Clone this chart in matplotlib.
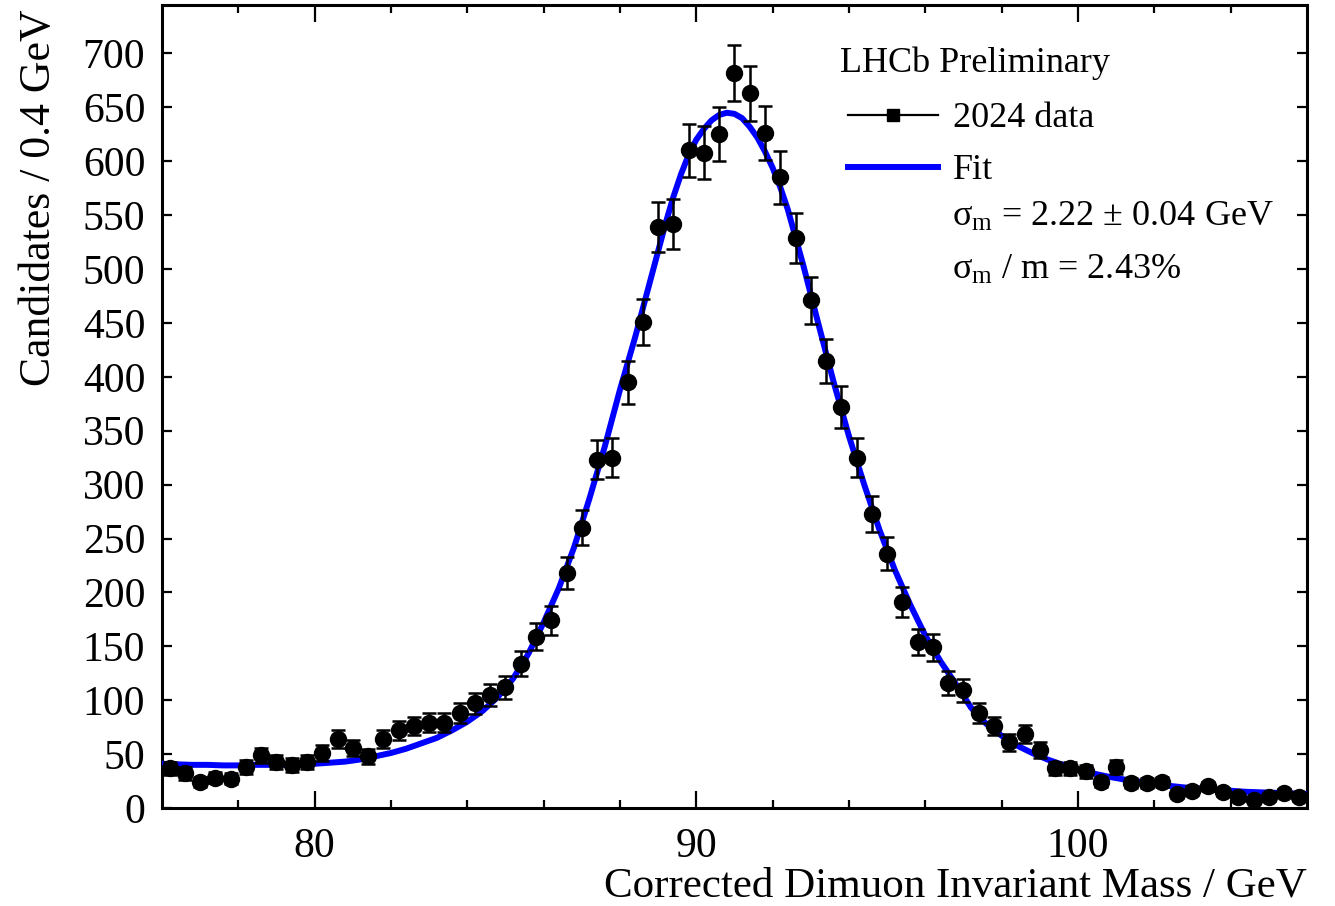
import numpy as np
import matplotlib.pyplot as plt
from matplotlib.lines import Line2D

plt.rcParams['font.family'] = ['Liberation Serif', 'DejaVu Serif']
plt.rcParams['mathtext.fontset'] = 'stix'

# Data: 0.4 GeV bins from 76 to 106 GeV
mass = np.linspace(76.2, 105.8, 75)
counts = [37, 32, 24, 28, 27, 38, 49, 43, 40, 43,
          51, 64, 56, 48, 64, 72, 76, 79, 79, 88,
          97, 105, 112, 134, 159, 174, 218, 260, 323, 325,
          395, 451, 539, 542, 610, 608, 625, 682, 663, 626,
          585, 529, 471, 415, 372, 325, 273, 236, 191, 154,
          149, 116, 109, 88, 76, 61, 69, 54, 37, 37,
          34, 24, 38, 23, 23, 24, 13, 16, 20, 15,
          10, 7, 10, 14, 10]
errors = np.sqrt(counts)

# Fit curve (finer steps around the peak)
fit_mass = [76.0, 76.4, 76.8, 77.2, 77.6, 78.0, 78.4, 78.8, 79.2, 79.6,
            80.0, 80.4, 80.8, 81.2, 81.6, 82.0, 82.4, 82.8, 83.2, 83.6,
            84.0, 84.4, 84.8, 85.2, 85.6, 86.0, 86.4, 86.8, 87.2, 87.6,
            88.0, 88.4, 88.8, 89.2, 89.4, 89.6, 89.8, 90.0, 90.2, 90.4,
            90.6, 90.8, 91.0, 91.2, 91.4, 91.6, 91.8, 92.0, 92.2, 92.4,
            92.8, 93.2, 93.6, 94.0, 94.4, 94.8, 95.2, 95.6, 96.0, 96.4,
            96.8, 97.2, 97.6, 98.0, 98.4, 98.8, 99.2, 99.6, 100.0, 100.4,
            100.8, 101.2, 101.6, 102.0, 102.4, 102.8, 103.2, 103.6, 104.0, 104.4,
            104.8, 105.2, 105.6, 106.0]
fit_vals = [41, 40.5, 40, 40, 39.5, 39.5, 40, 40, 40, 40.5,
            41, 42, 43, 45, 48, 51, 55, 60, 65, 72,
            80, 90, 103, 120, 143, 172, 204, 242, 287, 335,
            388, 437, 490, 543, 567, 588, 606, 620, 630, 638,
            643, 645, 644, 640, 632, 622, 609, 594, 576, 555,
            504, 449, 395, 345, 300, 258, 221, 189, 160, 136,
            115, 93, 78, 67, 58, 51, 45, 40, 36, 32,
            29, 26.5, 24.5, 22.5, 20.5, 19, 18, 17, 16, 15,
            14.5, 14, 13.5, 13]

fig = plt.figure(figsize=(13.35, 9.06), dpi=100)
ax = fig.add_axes([0.1213, 0.1082, 0.8577, 0.8863])

ax.plot(fit_mass, fit_vals, color='#0000ff', lw=4.3, zorder=3)
ax.errorbar(mass, counts, yerr=errors, fmt='o', color='black', ms=11.5,
            elinewidth=1.8, capsize=5, capthick=1.8, zorder=4)

ax.set_xlim(76, 106)
ax.set_ylim(0, 745)
ax.set_xticks([80, 90, 100])
ax.set_xticks(np.arange(78, 106, 2), minor=True)
ax.set_yticks(np.arange(0, 701, 50))

ax.tick_params(axis='both', which='both', direction='in', top=True, right=True,
               labelsize=30, width=1.6)
ax.tick_params(axis='x', which='major', length=12, pad=14)
ax.tick_params(axis='x', which='minor', length=6)
ax.tick_params(axis='y', which='major', length=7, pad=12)
for s in ax.spines.values():
    s.set_linewidth(2.2)

ax.set_xlabel('Corrected Dimuon Invariant Mass / GeV', fontsize=31,
              ha='right', va='center')
ax.xaxis.set_label_coords(1.0, -0.097)
ax.set_ylabel('Candidates / 0.4 GeV', fontsize=31.5, ha='right', va='center')
ax.yaxis.set_label_coords(-0.107, 0.994)

# Legend block
ax.text(0.592, 0.927, 'LHCb Preliminary', transform=ax.transAxes,
        fontsize=26, va='center', ha='left')
handles = [Line2D([], [], color='black', lw=1.6, marker='s', ms=9),
           Line2D([], [], color='#0000ff', lw=4.3)]
ax.legend(handles, ['2024 data', 'Fit'], loc='upper left',
          bbox_to_anchor=(0.599, 0.879), frameon=False, fontsize=26,
          handlelength=2.5, handletextpad=0.4, labelspacing=0.52,
          borderpad=0, borderaxespad=0)
ax.text(0.690, 0.735, r'$\mathregular{σ_{m}}$ = 2.22 ± 0.04 GeV',
        transform=ax.transAxes, fontsize=26, va='center', ha='left')
ax.text(0.690, 0.669, r'$\mathregular{σ_{m}}$ / m = 2.43%',
        transform=ax.transAxes, fontsize=26, va='center', ha='left')

fig.savefig('out.png', dpi=100)
